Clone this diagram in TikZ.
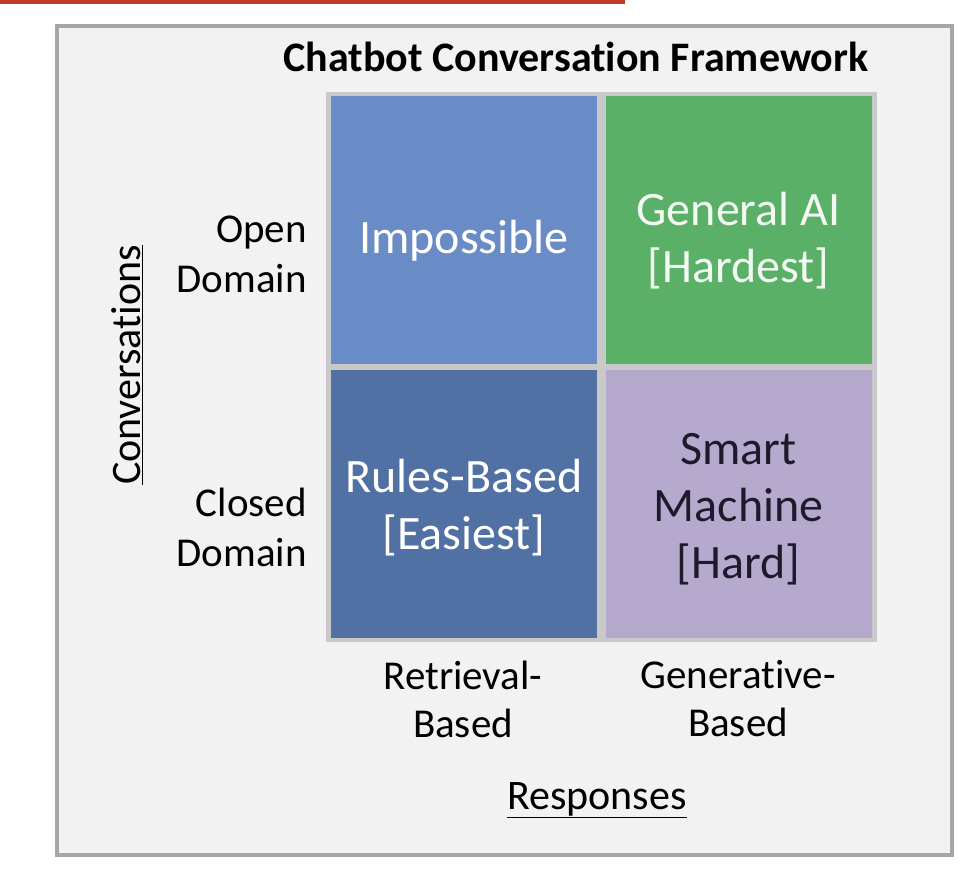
\documentclass[tikz,border=0pt]{standalone}
\usepackage{fontspec}
\setmainfont{Carlito}[Ligatures=NoCommon]
\definecolor{openblue}{HTML}{6A8CC6}
\definecolor{closedblue}{HTML}{5170A3}
\definecolor{aigreen}{HTML}{5BB068}
\definecolor{smartpurple}{HTML}{B5AACD}
\definecolor{panelgray}{HTML}{F2F2F2}
\definecolor{framegray}{HTML}{A6A6A6}
\definecolor{gridgray}{HTML}{C9C9C9}
\definecolor{topred}{HTML}{C0392B}
\definecolor{darktext}{HTML}{1E1A2C}
\tikzset{
  cell/.style={minimum width=266pt, minimum height=268pt, inner sep=0pt},
  celltext/.style={inner sep=0pt, align=center, text=white, font=\fontsize{48}{57}\selectfont},
  axislabel/.style={inner sep=0pt, align=right, anchor=east, font=\fontsize{41}{50}\selectfont},
  collabel/.style={inner sep=0pt, align=center, font=\fontsize{41}{48}\selectfont},
  axistitle/.style={inner sep=0pt, font=\fontsize{42}{50}\selectfont}
}

\begin{document}
\begin{tikzpicture}[x=1pt, y=-1pt]
\useasboundingbox (0, 0) rectangle (978, 872);
\fill[white] (0, 0) rectangle (978, 872);
\fill[topred] (0, 0) rectangle (625, 4);
\draw[framegray, line width=4pt, fill=panelgray] (57, 26) rectangle (952, 855);
\node[inner sep=0pt, anchor=base, font=\fontsize{42}{50}\selectfont\bfseries] (title) at (576, 72) {Chatbot Conversation Framework};
\fill[gridgray] (326, 92) rectangle (877, 642);
\node[cell, fill=openblue] (impossible) at (464, 230) {};
\node[cell, fill=aigreen] (generalai) at (738.5, 230) {};
\node[cell, fill=closedblue] (rules) at (464, 503.5) {};
\node[cell, fill=smartpurple] (smart) at (738.5, 503.5) {};
\node[celltext] (impossibletext) at ([yshift=-11pt]impossible.center) {Impossible};
\node[celltext, text=white!92!aigreen] (generalaitext) at ([yshift=-11pt]generalai.center) {General AI\\{[Hardest]}};
\node[celltext] (rulestext) at ([yshift=-4pt]rules.center) {Rules-Based\\{[Easiest]}};
\node[celltext, text=darktext] (smarttext) at ([yshift=-6pt]smart.center) {Smart\\Machine\\{[Hard]}};
\node[axislabel] (open) at (307, 254) {Open\\Domain};
\node[axislabel] (closed) at (307, 527) {Closed\\Domain};
\node[collabel] (retrieval) at (463, 699) {Retrieval-\\Based};
\node[collabel] (generative) at (738, 699) {Generative-\\Based};
\node[axistitle, rotate=90] (conversations) at (127, 365) {\underline{Conversations}};
\node[axistitle] (responses) at (597, 800) {\underline{Responses}};
\end{tikzpicture}
\end{document}
